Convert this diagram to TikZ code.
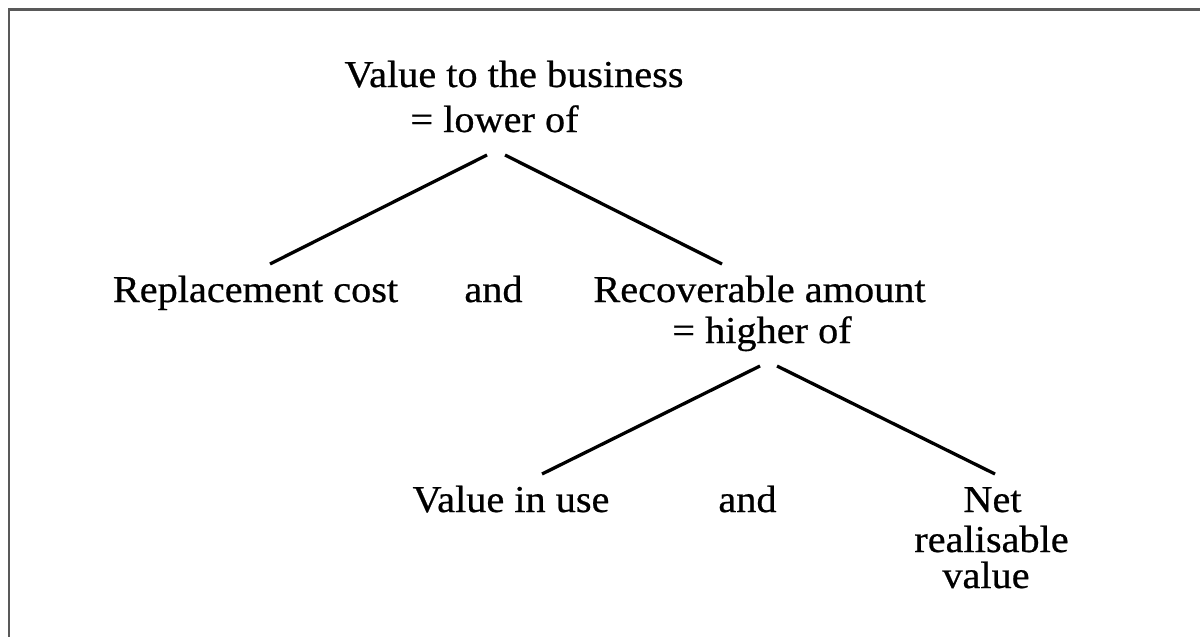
\documentclass[tikz,border=0pt]{standalone}
\usepackage{fontspec}
\setmainfont{Liberation Serif}[FakeStretch=1.06,FakeBold=0.6]
\usetikzlibrary{calc}
\begin{document}
\begin{tikzpicture}[x=1pt,y=-1pt,
  lbl/.style={anchor=base,inner sep=0pt,font=\fontsize{38}{40}\selectfont},
  branch/.style={line width=3.3pt,black},
  frame/.style={line width=2.5pt,draw=black!65}]
\useasboundingbox (0,0) rectangle (1200,637);
\begin{scope}
\clip (0,0) rectangle (1200,637);
\draw[frame] (9,660) -- (9,9.5) -- (1220,9.5);
\end{scope}
% nodes
\node[lbl] (vb)   at (514,87)    {Value to the business};
\node[lbl] (lo)   at (494.5,132) {= lower of};
\node[lbl] (rc)   at (255.5,302) {Replacement cost};
\node[lbl] (and1) at (493.5,302) {and};
\node[lbl] (ra)   at (759.5,302) {Recoverable amount};
\node[lbl] (hi)   at (762,343)   {= higher of};
\node[lbl] (viu)  at (511,512)   {Value in use};
\node[lbl] (and2) at (747.5,512) {and};
\node[lbl] (net)  at (992.5,512) {Net};
\node[lbl] (real) at (991.5,552) {realisable};
\node[lbl] (val)  at (986,588)   {value};
% connectors
\draw[branch] ($(lo.base)+(-7.5,23)$) -- ($(rc.base)+(14.5,-38)$);
\draw[branch] ($(lo.base)+(10.5,23)$) -- ($(ra.base)+(-37.5,-38)$);
\draw[branch] ($(hi.base)+(-2,23)$) -- ($(viu.base)+(31,-38)$);
\draw[branch] ($(hi.base)+(15,23)$) -- ($(net.base)+(2.5,-38)$);
\end{tikzpicture}
\end{document}
